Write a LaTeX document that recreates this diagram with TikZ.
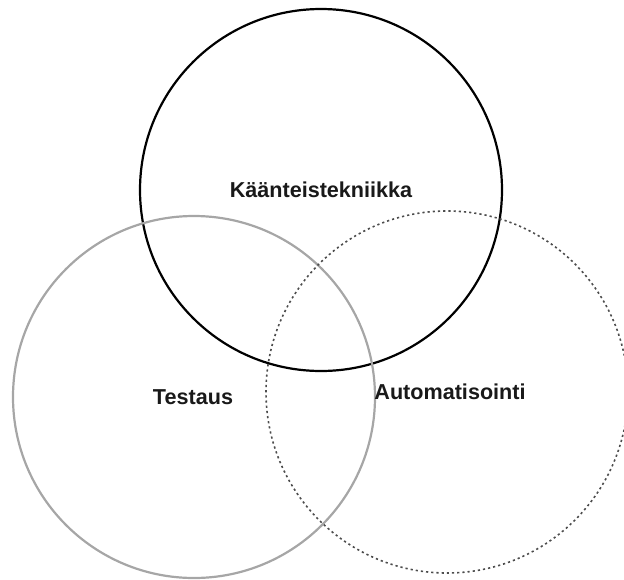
\documentclass[tikz,border=0pt]{standalone}
\usepackage{fontspec}
\setmainfont{Liberation Sans}
\begin{document}
\begin{tikzpicture}[x=1pt,y=-1pt,
  ring/.style={circle, inner sep=0pt, minimum size=362pt},
  label/.style={font=\fontsize{21.6}{24}\selectfont\bfseries, text=black!90, inner sep=0pt}]
  \useasboundingbox (0,0) rectangle (624,579);
  % the three overlapping areas
  \begin{scope}
    \clip (0,0) rectangle (624,579);
    \node[ring, draw=black, line width=2.2pt] (kt) at (321,190) {};
    \node[ring, draw=black!35, line width=2.2pt] (ts) at (194,397) {};
    \node[ring, draw=black!70, line width=1.6pt, dash pattern=on 2.2pt off 3pt] (au) at (447,392) {};
  \end{scope}
  % area names
  \node[label] (ktl) at (321,190) {Käänteistekniikka};
  \node[label] (tsl) at (193,397) {Testaus};
  \node[label] (aul) at (450,392) {Automatisointi};
\end{tikzpicture}
\end{document}
